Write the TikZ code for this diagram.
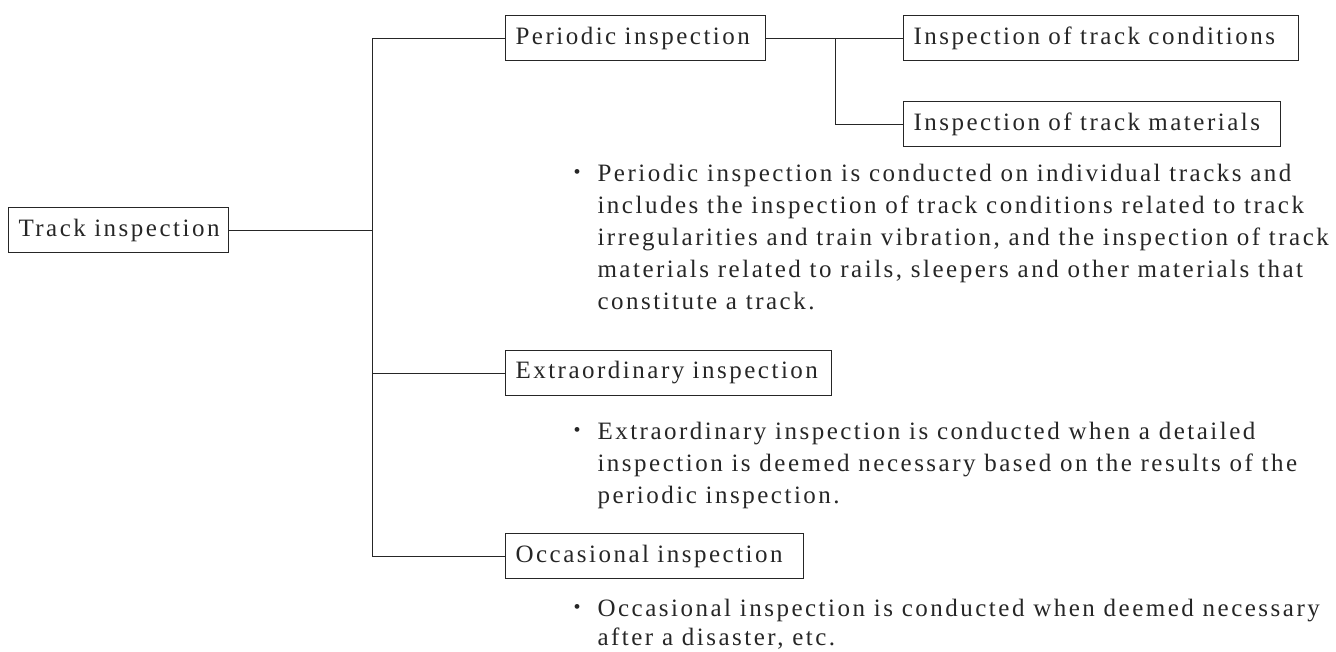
\documentclass[tikz,border=0pt]{standalone}
\usepackage{fontspec}
\setmainfont{Liberation Serif}[LetterSpace=10]
\begin{document}
\begin{tikzpicture}[x=1pt,y=-1pt,
  line width=1pt, draw=black!85, text=black!85,
  box/.style={draw, rectangle, anchor=west, minimum height=45, inner xsep=10, inner ysep=0, align=left, font=\fontsize{25}{28}\selectfont},
  note/.style={anchor=base west, inner sep=0, font=\fontsize{25}{32}\selectfont},
  dot/.style={anchor=base west, inner sep=0, font=\fontsize{20}{20}\selectfont}
]
\useasboundingbox (0,0) rectangle (1336,651);

% boxes
\node[box, text width=200] (track) at (8,230) {Track inspection};
\node[box, text width=240] (periodic) at (505,38) {Periodic inspection};
\node[box, text width=375] (cond) at (903,38) {Inspection of track conditions};
\node[box, text width=357] (mat) at (903,124) {Inspection of track materials};
\node[box, text width=306] (extra) at (505,373) {Extraordinary inspection};
\node[box, text width=278] (occas) at (505,556) {Occasional inspection};

% branching points
\coordinate (trunk) at (372,230);
\coordinate (fork) at (835,38);

% connectors
\draw (track.east) -- (trunk);
\draw (periodic.west) -| (trunk);
\draw (extra.west) -| (trunk);
\draw (occas.west) -| (trunk);
\draw (periodic.east) -- (cond.west);
\draw (mat.west) -| (fork);

% descriptions
\node[dot] (b1) at (573,178) {•};
\node[note] (p1) at (597,181) {\begin{tabular}[t]{@{}l@{}}
Periodic inspection is conducted on individual tracks and\\
includes the inspection of track conditions related to track\\
irregularities and train vibration, and the inspection of track\\
materials related to rails, sleepers and other materials that\\
constitute a track.
\end{tabular}};

\node[dot] (b2) at (573,436) {•};
\node[note] (p2) at (597,439) {\begin{tabular}[t]{@{}l@{}}
Extraordinary inspection is conducted when a detailed\\
inspection is deemed necessary based on the results of the\\
periodic inspection.
\end{tabular}};

\node[dot] (b3) at (573,613) {•};
\node[note, font=\fontsize{25}{29}\selectfont] (p3) at (597,616) {\begin{tabular}[t]{@{}l@{}}
Occasional inspection is conducted when deemed necessary\\
after a disaster, etc.
\end{tabular}};
\end{tikzpicture}
\end{document}
